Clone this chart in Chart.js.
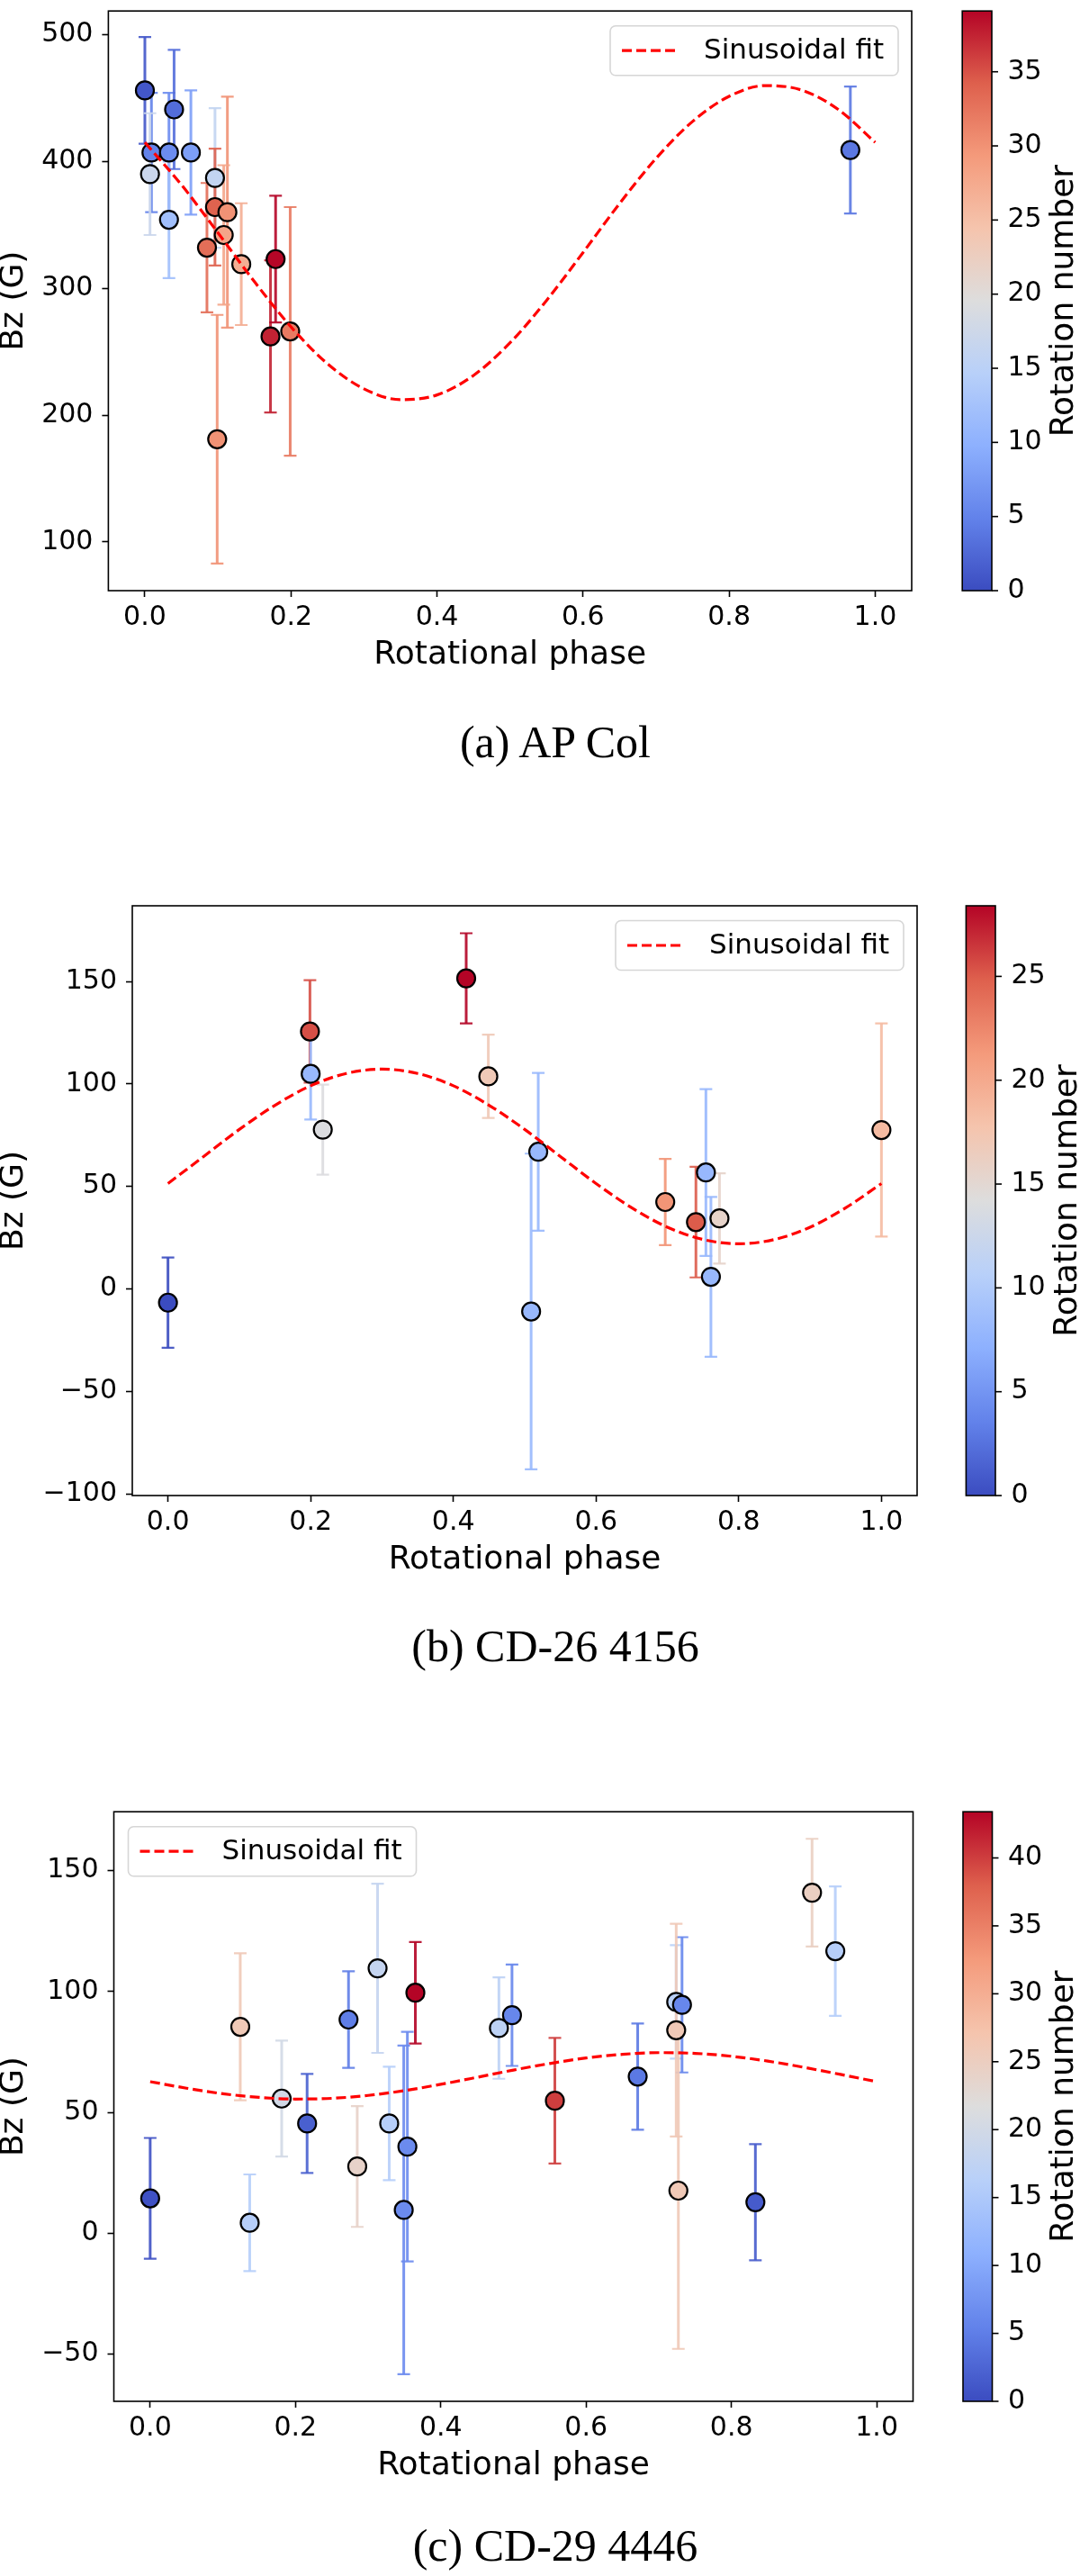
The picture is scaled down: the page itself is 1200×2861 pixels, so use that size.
<!DOCTYPE html>
<html>
<head>
<meta charset="utf-8">
<script src="https://cdn.jsdelivr.net/npm/chart.js@4.4.1/dist/chart.umd.min.js"></script>
<style>
  html, body { margin: 0; padding: 0; background: #fff; }
  #page { position: relative; width: 1200px; height: 2861px; overflow: hidden; background: #fff; }
  #page canvas { position: absolute; left: 0; }
  .cap { position: absolute; left: 317px; width: 600px; text-align: center; white-space: nowrap;
         font-family: "Liberation Serif", "Times New Roman", serif; font-size: 50px; line-height: 50px; color: #000; }
</style>
</head>
<body>
<div id="page"></div>
<script>
// --- DATA ---
const xTicks = [0, 0.2, 0.4, 0.6, 0.8, 1.0];
const fitPhase = [0, 0.05, 0.1, 0.15, 0.2, 0.25, 0.3, 0.35, 0.4, 0.45, 0.5, 0.55, 0.6, 0.65, 0.7, 0.75, 0.8, 0.85, 0.9, 0.95, 1.0];

// (a) AP Col
const phaseA = [0.000, 0.009, 0.007, 0.033, 0.033, 0.040, 0.063, 0.096, 0.096, 0.113, 0.108, 0.085, 0.132, 0.099, 0.172, 0.179, 0.199, 0.966];
const bzA    = [456, 407, 390, 407, 354, 441, 407, 387, 364, 360, 342, 332, 319, 181, 262, 323, 266, 409];
const errA   = [42, 47, 48, 47, 46, 47, 49, 55, 46, 91, 55, 51, 48, 98, 60, 50, 98, 50];
const rotA   = [1, 5, 17, 6, 12, 3, 8, 16, 34, 30, 28, 33, 27, 30, 37.5, 39, 32, 4];
const fitA   = [415.0, 381.6, 343.8, 305.2, 269.6, 240.5, 220.7, 212.2, 215.9, 231.3, 257.0, 290.4, 328.2, 366.8, 402.4, 431.5, 451.3, 459.8, 456.1, 440.7, 415.0];
const yTicksA = [100, 200, 300, 400, 500];
const cbTicksA = [0, 5, 10, 15, 20, 25, 30, 35];

// (b) CD-26 4156
const phaseB = [0.000, 0.199, 0.200, 0.217, 0.418, 0.449, 0.509, 0.519, 0.697, 0.740, 0.754, 0.761, 0.773, 1.000];
const bzB    = [-6.7, 125.6, 104.9, 77.7, 151.5, 103.7, -11.0, 66.9, 42.4, 32.6, 56.8, 5.9, 34.4, 77.5];
const errB   = [22, 25, 22.3, 22, 22, 20.3, 77, 38.5, 21, 27, 40.7, 39, 22, 52];
const rotB   = [0, 25.5, 8, 14, 28.4, 17, 8, 8, 21.6, 25, 8, 8, 15.6, 18.5];
const fitB   = [51.4, 64.6, 77.8, 89.6, 99.1, 105.1, 107.2, 105.1, 99.1, 89.6, 77.8, 64.6, 51.4, 39.6, 30.1, 24.1, 22.0, 24.1, 30.1, 39.6, 51.4];
const yTicksB = [-100, -50, 0, 50, 100, 150];
const cbTicksB = [0, 5, 10, 15, 20, 25];

// (c) CD-29 4446
const phaseC = [0.000, 0.124, 0.137, 0.181, 0.216, 0.273, 0.285, 0.313, 0.365, 0.329, 0.349, 0.354, 0.480, 0.498, 0.557, 0.671, 0.724, 0.732, 0.724, 0.727, 0.833, 0.911, 0.943];
const bzC    = [14.4, 85.4, 4.3, 55.7, 45.4, 88.4, 27.6, 109.6, 99.5, 45.4, 9.6, 35.8, 84.9, 90.2, 54.8, 64.8, 95.7, 94.5, 84.0, 17.6, 12.8, 140.9, 116.7];
const errC   = [25, 30.4, 20, 24, 20.5, 20, 25, 35, 21, 23.5, 68, 47.5, 21, 21, 26, 22, 23.5, 28, 44, 65.5, 24, 22.3, 26.8];
const rotC   = [0.5, 26, 16, 20, 2, 5, 24, 18, 43.4, 16, 6.5, 6.5, 17, 6, 40, 4.5, 16.5, 6, 26, 26, 1.5, 24.7, 16];
const fitC   = [62.7, 60.0, 57.7, 56.2, 55.5, 55.8, 57.0, 59.0, 61.6, 64.5, 67.5, 70.2, 72.5, 74.0, 74.7, 74.4, 73.2, 71.2, 68.6, 65.7, 62.7];
const yTicksC = [-50, 0, 50, 100, 150];
const cbTicksC = [0, 5, 10, 15, 20, 25, 30, 35, 40];

// --- COLOURMAP (matplotlib coolwarm) ---
const CW = [[59,76,192],[98,130,234],[141,176,254],[184,208,249],[221,221,221],[245,196,173],[244,154,123],[222,96,77],[180,4,38]];
function coolwarm(t, a) {
  t = Math.max(0, Math.min(1, t));
  const p = t * 8, i = Math.min(7, Math.floor(p)), f = p - i;
  const c = CW[i].map((v, k) => Math.round(v + (CW[i + 1][k] - v) * f));
  return `rgba(${c[0]},${c[1]},${c[2]},${a === undefined ? 1 : a})`;
}
function minusFmt(v) { return v < 0 ? '\u2212' + Math.abs(v) : String(v); }

const FONT = '"DejaVu Sans", sans-serif';

// --- DECORATION PLUGIN: error bars, frame, colorbar, legend ---
function makeDecor(s, lay) {
  return {
    id: 'decor',
    beforeDatasetsDraw(chart) {
      const {ctx, scales: {x, y}} = chart;
      ctx.save();
      s.phase.forEach((p, i) => {
        const px = x.getPixelForValue(p);
        const y1 = y.getPixelForValue(s.bz[i] - s.err[i]);
        const y2 = y.getPixelForValue(s.bz[i] + s.err[i]);
        ctx.strokeStyle = coolwarm(s.rot[i] / s.vmax, 0.9);
        ctx.lineWidth = 3;
        ctx.beginPath(); ctx.moveTo(px, y1); ctx.lineTo(px, y2); ctx.stroke();
        ctx.lineWidth = 2.2;
        ctx.beginPath();
        ctx.moveTo(px - 7, y1); ctx.lineTo(px + 7, y1);
        ctx.moveTo(px - 7, y2); ctx.lineTo(px + 7, y2);
        ctx.stroke();
      });
      ctx.restore();
    },
    afterDraw(chart) {
      const {ctx, chartArea: ca} = chart;
      const cb = chart.scales.cb;
      ctx.save();
      // frame
      ctx.strokeStyle = '#000'; ctx.lineWidth = 1.6;
      ctx.strokeRect(ca.left, ca.top, ca.right - ca.left, ca.bottom - ca.top);

      // colorbar
      const g = ctx.createLinearGradient(0, cb.getPixelForValue(0), 0, cb.getPixelForValue(s.vmax));
      CW.forEach((c, k) => g.addColorStop(k / 8, `rgb(${c[0]},${c[1]},${c[2]})`));
      ctx.fillStyle = g;
      ctx.fillRect(lay.cbL, ca.top, lay.cbR - lay.cbL, ca.bottom - ca.top);
      ctx.strokeRect(lay.cbL, ca.top, lay.cbR - lay.cbL, ca.bottom - ca.top);
      ctx.fillStyle = '#000';
      ctx.font = '30px ' + FONT;
      ctx.textAlign = 'left'; ctx.textBaseline = 'middle';
      s.cbTicks.forEach(v => {
        const py = cb.getPixelForValue(v);
        ctx.beginPath(); ctx.moveTo(lay.cbR, py); ctx.lineTo(lay.cbR + 7, py); ctx.stroke();
        ctx.fillText(String(v), lay.cbR + 17.5, py);
      });
      ctx.save();
      ctx.translate(lay.cbR + 80.5, (ca.top + ca.bottom) / 2);
      ctx.rotate(-Math.PI / 2);
      ctx.font = '36px ' + FONT;
      ctx.textAlign = 'center';
      ctx.fillText('Rotation number', 0, 0);
      ctx.restore();

      // legend
      const w = 320, h = 55, r = 6;
      const lx = lay.legendSide === 'right' ? ca.right - 15 - w : ca.left + 16;
      const ly = ca.top + 16.5;
      ctx.beginPath();
      ctx.moveTo(lx + r, ly); ctx.lineTo(lx + w - r, ly); ctx.arcTo(lx + w, ly, lx + w, ly + r, r);
      ctx.lineTo(lx + w, ly + h - r); ctx.arcTo(lx + w, ly + h, lx + w - r, ly + h, r);
      ctx.lineTo(lx + r, ly + h); ctx.arcTo(lx, ly + h, lx, ly + h - r, r);
      ctx.lineTo(lx, ly + r); ctx.arcTo(lx, ly, lx + r, ly, r);
      ctx.closePath();
      ctx.fillStyle = 'rgba(255,255,255,0.85)'; ctx.fill();
      ctx.strokeStyle = '#d6d6d6'; ctx.lineWidth = 1.6; ctx.stroke();
      const cy = ly + h / 2;
      ctx.strokeStyle = '#ff0000'; ctx.lineWidth = 3.2; ctx.setLineDash([11, 5]);
      ctx.beginPath(); ctx.moveTo(lx + 13, cy); ctx.lineTo(lx + 75, cy); ctx.stroke();
      ctx.setLineDash([]);
      ctx.fillStyle = '#000'; ctx.font = '31px ' + FONT;
      ctx.textAlign = 'left'; ctx.textBaseline = 'middle';
      ctx.fillText('Sinusoidal fit', lx + 104, cy + 1);
      ctx.restore();
    }
  };
}

function zeroPad(scale) {
  scale.paddingTop = 0; scale.paddingBottom = 0; scale.paddingLeft = 0; scale.paddingRight = 0;
}

function buildPanel(s, lay) {
  const page = document.getElementById('page');
  const canvas = document.createElement('canvas');
  const h = Math.round(lay.B + 100 - lay.canvasTop);
  canvas.width = 1200; canvas.height = h;
  canvas.style.top = lay.canvasTop + 'px';
  canvas.style.width = '1200px'; canvas.style.height = h + 'px';
  page.appendChild(canvas);

  const cap = document.createElement('div');
  cap.className = 'cap';
  cap.style.top = (lay.capY - 29.2) + 'px';
  cap.textContent = s.caption;
  page.appendChild(cap);

  const tickFont = { family: FONT, size: 30, lineHeight: 1.2 };

  new Chart(canvas, {
    type: 'scatter',
    data: {
      datasets: [
        {
          type: 'line',
          label: 'Sinusoidal fit',
          data: fitPhase.map((p, i) => ({ x: p, y: s.fit[i] })),
          borderColor: '#ff0000', borderWidth: 3.2, borderDash: [11, 5],
          pointRadius: 0, fill: false, cubicInterpolationMode: 'monotone'
        },
        {
          label: 'Bz',
          data: s.phase.map((p, i) => ({ x: p, y: s.bz[i] })),
          pointRadius: 10, pointHoverRadius: 10,
          pointBorderWidth: 2.2, pointBorderColor: '#000',
          pointBackgroundColor: s.rot.map(r => coolwarm(r / s.vmax))
        }
      ]
    },
    options: {
      responsive: false, animation: false, devicePixelRatio: 1,
      layout: { padding: { left: 0, top: lay.T - lay.canvasTop, right: 1200 - lay.R, bottom: 0 } },
      scales: {
        x: {
          type: 'linear', min: -0.05, max: 1.05,
          afterBuildTicks: sc => { sc.ticks = xTicks.map(v => ({ value: v })); },
          afterFit: sc => { sc.height = 100; zeroPad(sc); },
          ticks: { autoSkip: false, maxRotation: 0, padding: 5.5, color: '#000', font: tickFont,
                   callback: v => Number(v).toFixed(1) },
          grid: { display: true, drawOnChartArea: false, drawTicks: true, tickLength: 7, tickWidth: 1.6, tickColor: '#000' },
          border: { display: false },
          title: { display: true, text: 'Rotational phase', color: '#000',
                   font: { family: FONT, size: 36, lineHeight: 1.2 }, padding: { top: 0, bottom: 6.9 } }
        },
        y: {
          type: 'linear', min: s.ymin, max: s.ymax,
          afterBuildTicks: sc => { sc.ticks = s.yTicks.map(v => ({ value: v })); },
          afterFit: sc => { sc.width = lay.L; zeroPad(sc); },
          ticks: { autoSkip: false, padding: 10, color: '#000', font: tickFont, callback: v => minusFmt(v) },
          grid: { display: true, drawOnChartArea: false, drawTicks: true, tickLength: 7, tickWidth: 1.6, tickColor: '#000' },
          border: { display: false },
          title: { display: true, text: 'Bz (G)', color: '#000',
                   font: { family: FONT, size: 36, lineHeight: 0.86 }, padding: 0 }
        },
        cb: {
          type: 'linear', axis: 'y', position: 'right', display: false, min: 0, max: s.vmax,
          ticks: { display: false }, afterFit: sc => { sc.width = 0; zeroPad(sc); }
        }
      },
      plugins: { legend: { display: false }, tooltip: { enabled: false }, title: { display: false } }
    },
    plugins: [makeDecor(s, lay)]
  });
}

buildPanel(
  { phase: phaseA, bz: bzA, err: errA, rot: rotA, fit: fitA, yTicks: yTicksA, cbTicks: cbTicksA,
    vmax: 39.1, ymin: 61.6, ymax: 518.6, caption: '(a) AP Col' },
  { canvasTop: 0, L: 120.4, T: 1.2, R: 1013, B: 656.4, cbL: 1069.2, cbR: 1102, legendSide: 'right', capY: 828 }
);
buildPanel(
  { phase: phaseB, bz: bzB, err: errB, rot: rotB, fit: fitB, yTicks: yTicksB, cbTicks: cbTicksB,
    vmax: 28.4, ymin: -100.8, ymax: 186.9, caption: '(b) CD-26 4156' },
  { canvasTop: 960, L: 147, T: 1006, R: 1019, B: 1661, cbL: 1073.4, cbR: 1106, legendSide: 'right', capY: 1831.7 }
);
buildPanel(
  { phase: phaseC, bz: bzC, err: errC, rot: rotC, fit: fitC, yTicks: yTicksC, cbTicks: cbTicksC,
    vmax: 43.4, ymin: -69.6, ymax: 174.4, caption: '(c) CD-29 4446' },
  { canvasTop: 1960, L: 126.5, T: 2012.2, R: 1014.5, B: 2666.5, cbL: 1070, cbR: 1102.5, legendSide: 'left', capY: 2831.6 }
);
</script>
</body>
</html>
